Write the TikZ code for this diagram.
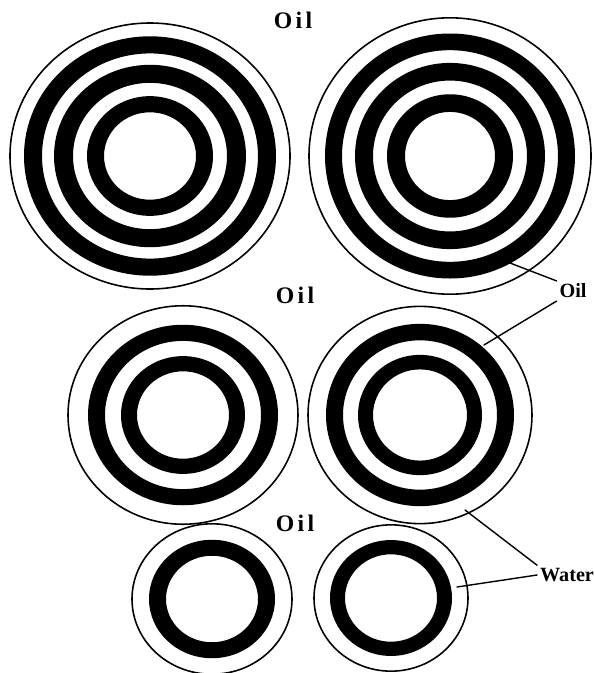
\documentclass[tikz,border=0pt]{standalone}
\usepackage{fontspec}
\setmainfont{Liberation Serif}
\newfontfamily\emtitlefont[LetterSpace=14]{Liberation Serif}
\usetikzlibrary{positioning}
\tikzset{
  em diagram/.style={x=0.02cm, y=-0.02cm, line cap=round, line join=round},
  em shell/.style={draw=black, line width=0.9pt},
  em ring/.style={fill=black, even odd rule},
  em title/.style={font=\emtitlefont\fontsize{13.5}{15}\selectfont\bfseries, inner sep=1pt},
  em label/.style={font=\fontsize{11.5}{13}\selectfont\bfseries, inner sep=1.5pt},
  em leader/.style={draw=black, line width=0.8pt}
}

\begin{document}
\begin{tikzpicture}[em diagram]
\useasboundingbox (0,0) rectangle (593,673);
% drops: name/centre/outer radius/yscale/rings
\foreach \name/\cx/\cy/\rout/\ys/\rings in {
    tl/150/156/140/0.95/{46/63,77/96,108/126},
    tr/450/156/141/0.98/{45/63,77/95,108/125},
    ml/183/415/115/0.95/{46/62,78/95},
    mr/420/415/112/0.97/{47/62,77/94},
    bl/212/599/80/0.94/{46/63},
    br/391/598/77/0.95/{46/61}}{
  \coordinate (\name) at (\cx,\cy);
  \begin{scope}[shift={(\name)}, yscale=\ys]
    \draw[em shell] (0,0) circle[radius=\rout];
    \foreach \ri/\ro in \rings
      \fill[em ring] (0,0) circle[radius=\ro] (0,0) circle[radius=\ri];
  \end{scope}
}

\node[em title] (oilTop) at (293,20) {Oil};
\node[em title] (oilMid) at (295,295) {Oil};
\node[em title] (oilLow) at (295,523) {Oil};

\node[em label] (oil) at (573,291) {Oil};
\node[em label] (water) at (567,575) {Water};

\coordinate (oilA) at (510,263);
\coordinate (oilB) at (484,345);
\coordinate (waterA) at (465,510);
\coordinate (waterB) at (457,587);
\draw[em leader] (oil.north west) -- (oilA);
\draw[em leader] (oil.south west) -- (oilB);
\draw[em leader] (water.north west) -- (waterA);
\draw[em leader] (water.west) -- (waterB);
\end{tikzpicture}
\end{document}
